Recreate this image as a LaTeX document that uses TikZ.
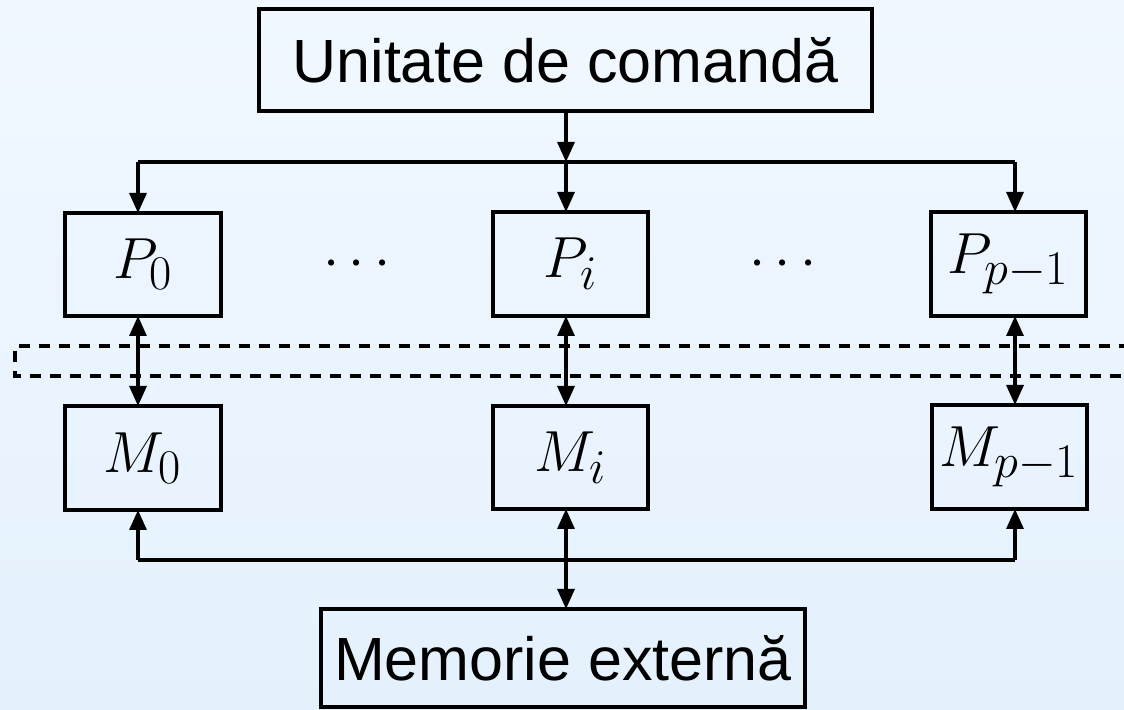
\documentclass[tikz,border=0pt]{standalone}
\usepackage{graphicx}
\usepackage{fontspec}
\setmainfont{Liberation Sans}
\usetikzlibrary{arrows.meta}
\definecolor{bgtop}{HTML}{F1F8FF}
\definecolor{bgbot}{HTML}{E4F1FD}
\newcommand{\bigmath}[1]{\scalebox{1.1656}{\Huge$#1$}}
\begin{document}
\begin{tikzpicture}[x=0.5pt,y=-0.5pt,
  box/.style={draw, line width=1.6pt, inner sep=0pt, outer sep=0pt},
  big/.style={font=\fontsize{30.5}{36}\selectfont},
  plain/.style={line width=1.6pt},
  conn/.style={line width=1.6pt, -{Triangle[length=10pt,width=8.5pt]}},
  dconn/.style={line width=1.6pt, {Triangle[length=10pt,width=8.5pt]}-{Triangle[length=10pt,width=8.5pt]}},
  dashbox/.style={line width=1.6pt, dash pattern=on 5.5pt off 4.5pt}]
\useasboundingbox (0,0) rectangle (1124,710);
\shade[top color=bgtop, bottom color=bgbot] (0,0) rectangle (1124,710);

% boxes
\node[box, big, minimum width=306.5pt, minimum height=51pt] (U) at (565.5,60) {Unitate de comandă};
\node[box, minimum width=78pt, minimum height=51.5pt] (P0) at (143,264.5) {\bigmath{P_0}};
\node[box, minimum width=77.5pt, minimum height=52pt] (Pi) at (570.5,264) {\bigmath{P_i}};
\node[box, minimum width=77.5pt, minimum height=52pt] (Pp) at (1008.5,264) {\bigmath{P_{p-1}}};
\node[box, minimum width=78pt, minimum height=52pt] (M0) at (143,458) {\bigmath{M_0}};
\node[box, minimum width=77.5pt, minimum height=51.5pt] (Mi) at (570.5,457.5) {\bigmath{M_i}};
\node[box, minimum width=77.5pt, minimum height=52pt] (Mp) at (1009.5,457) {\bigmath{M_{p-1}}};
\node[box, big, minimum width=242pt, minimum height=49pt] (Mem) at (563,658) {Memorie externă};

\node (d1) at (357,265) {\bigmath{\cdots}};
\node (d2) at (783,265) {\bigmath{\cdots}};

% dashed band
\draw[dashbox] (1130,346) -- (15,346) -- (15,376) -- (1130,376);

% bus coordinates
\coordinate (tL) at (138,162);
\coordinate (tM) at (566,162);
\coordinate (tR) at (1015,162);
\coordinate (bL) at (138,560);
\coordinate (bM) at (566,560);
\coordinate (bR) at (1015,560);

% top bus
\draw[plain] (tL) -- (tR);
\draw[conn] (U.south -| tM) -- (tM);
\draw[conn] (tL) -- (tL |- P0.north);
\draw[conn] (tM) -- (tM |- Pi.north);
\draw[conn] (tR) -- (tR |- Pp.north);

% processor-memory links
\draw[dconn] (P0.south -| tL) -- (M0.north -| tL);
\draw[dconn] (Pi.south -| tM) -- (Mi.north -| tM);
\draw[dconn] (Pp.south -| tR) -- (Mp.north -| tR);

% bottom bus
\draw[plain] (bL) -- (bR);
\draw[conn] (bL) -- (bL |- M0.south);
\draw[conn] (bR) -- (bR |- Mp.south);
\draw[dconn] (Mi.south -| bM) -- (Mem.north -| bM);
\end{tikzpicture}
\end{document}
